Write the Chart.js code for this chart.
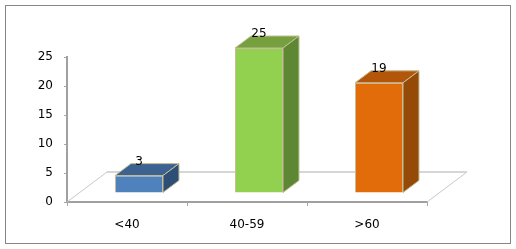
<!DOCTYPE html>
<html>
<head>
<meta charset="utf-8">
<script src="https://cdn.jsdelivr.net/npm/chart.js@4"></script>
<style>
    body { margin: 0; background: #fff; }
    canvas { display: block; }
</style>
</head>
<body>
<canvas id="ageChart" width="516" height="249"></canvas>
<script>
// dữ liệu biểu đồ
const categories = ['<40', '40-59', '>60'];
const counts = [3, 25, 19];
const yTicks = [0, 5, 10, 15, 20, 25];

// màu mặt trước / mặt trên / mặt bên
const frontColors = ['#4f81bd', '#92d050', '#e36c0a'];
const topColors = ['#3c6292', '#76a03e', '#b4560a'];
const sideColors = ['#2f4e76', '#5e8733', '#954a08'];

const FONT = { family: 'DejaVu Sans', size: 12 };
const SHIFT = { x: 12, y: -9 };   // bar nằm giữa độ sâu sàn
const DEPTH = { x: 16, y: -12 };  // độ dày của bar
const FLOOR = { x: 40, y: -30 };  // độ sâu của sàn

const threeD = {
    id: 'threeD',
    beforeDatasetsDraw(chart) {
        const ctx = chart.ctx;
        const xs = chart.scales.x;
        const ys = chart.scales.y;
        const y0 = ys.getPixelForValue(0);
        const l = xs.left, r = xs.right;

        // sàn phía sau
        ctx.save();
        ctx.strokeStyle = '#c8c8c8';
        ctx.lineWidth = 1;
        ctx.beginPath();
        ctx.moveTo(l, y0); ctx.lineTo(l + FLOOR.x, y0 + FLOOR.y);
        ctx.moveTo(r, y0); ctx.lineTo(r + FLOOR.x, y0 + FLOOR.y);
        ctx.stroke();
        ctx.strokeStyle = '#d6d6d6';
        ctx.lineWidth = 2;
        ctx.beginPath();
        ctx.moveTo(l + FLOOR.x, y0 + FLOOR.y);
        ctx.lineTo(r + FLOOR.x, y0 + FLOOR.y);
        ctx.stroke();
        ctx.restore();

        ctx.save();
        ctx.translate(SHIFT.x, SHIFT.y);
    },
    afterDatasetsDraw(chart) {
        const ctx = chart.ctx;
        const meta = chart.getDatasetMeta(0);
        meta.data.forEach((bar, i) => {
            const p = bar.getProps(['x', 'y', 'base', 'width'], true);
            const xl = p.x - p.width / 2, xr = p.x + p.width / 2;
            ctx.strokeStyle = '#c4bd97';
            ctx.lineWidth = 1;
            // mặt trên
            ctx.fillStyle = topColors[i];
            ctx.beginPath();
            ctx.moveTo(xl, p.y);
            ctx.lineTo(xl + DEPTH.x, p.y + DEPTH.y);
            ctx.lineTo(xr + DEPTH.x, p.y + DEPTH.y);
            ctx.lineTo(xr, p.y);
            ctx.closePath();
            ctx.fill(); ctx.stroke();
            // mặt bên
            ctx.fillStyle = sideColors[i];
            ctx.beginPath();
            ctx.moveTo(xr, p.y);
            ctx.lineTo(xr + DEPTH.x, p.y + DEPTH.y);
            ctx.lineTo(xr + DEPTH.x, p.base + DEPTH.y);
            ctx.lineTo(xr, p.base);
            ctx.closePath();
            ctx.fill(); ctx.stroke();
            // nhãn giá trị
            ctx.fillStyle = '#000';
            ctx.font = FONT.size + 'px "' + FONT.family + '"';
            ctx.textAlign = 'center';
            ctx.textBaseline = 'middle';
            ctx.fillText(String(counts[i]), p.x, p.y - 14);
        });
        ctx.restore();
    },
    afterDraw(chart) {
        const ctx = chart.ctx;
        ctx.save();
        ctx.strokeStyle = '#868686';
        ctx.lineWidth = 1;
        ctx.strokeRect(5.5, 5.5, 505, 238);
        ctx.restore();
    }
};

new Chart(document.getElementById('ageChart'), {
    type: 'bar',
    data: {
        labels: categories,
        datasets: [{
            data: counts,
            backgroundColor: frontColors,
            borderColor: '#c4bd97',
            borderWidth: 1,
            categoryPercentage: 0.4,
            barPercentage: 1,
        }],
    },
    options: {
        responsive: false,
        animation: false,
        layout: { padding: { left: 0, top: 57, right: 89, bottom: 0 } },
        plugins: {
            legend: { display: false },
            tooltip: { enabled: false },
        },
        scales: {
            x: {
                grid: { drawOnChartArea: false, tickLength: 4, color: '#a6a6a6', offset: true },
                border: { color: '#a0a0a0', width: 2 },
                ticks: { color: '#000', font: FONT, padding: 12 },
                afterFit(scale) { scale.height = 47; },
            },
            y: {
                min: 0,
                max: 25,
                afterBuildTicks(scale) { scale.ticks = yTicks.map(v => ({ value: v })); },
                grid: { drawOnChartArea: false, tickLength: 3, color: '#a6a6a6' },
                border: { color: '#a0a0a0', width: 2 },
                ticks: { color: '#000', font: FONT, padding: 11 },
                afterFit(scale) { scale.width = 67; },
            },
        },
    },
    plugins: [threeD],
});
</script>
</body>
</html>
